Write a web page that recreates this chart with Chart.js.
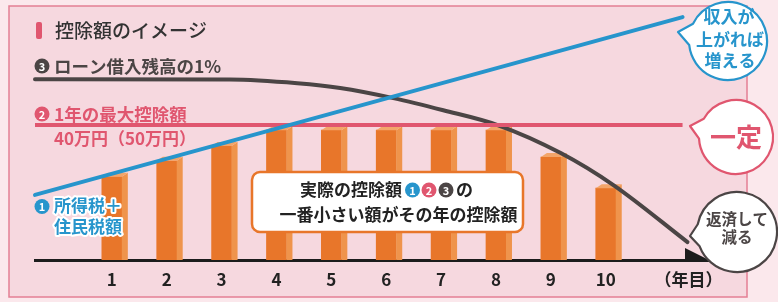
<!DOCTYPE html>
<html>
<head>
<meta charset="utf-8">
<script src="https://cdn.jsdelivr.net/npm/chart.js@4.4.1/dist/chart.umd.min.js"></script>
<style>
  html, body { margin: 0; padding: 0; background: #fbe8ec; }
  #wrap { width: 778px; height: 302px; }
</style>
</head>
<body>
<div id="wrap"><canvas id="chart" width="778" height="302"></canvas></div>
<script>
// ===== data (万円, 年目) =====
const years = [1, 2, 3, 4, 5, 6, 7, 8, 9, 10];
const deductions = [24.7, 29.4, 33.8, 38.5, 38.5, 38.5, 38.5, 38.5, 30.5, 21.3];

// ① 所得税＋住民税額（右肩上がり）
const taxX = [-0.4, 11.4];
const taxY = [19.3, 72];
// ② 1年の最大控除額（一定）
const maxX = [-0.4, 11.4];
const maxY = [40, 40];
// ③ ローン借入残高の1%
const loanX = [-0.4, 3.15, 4.38, 5.16, 6.13, 7.04, 8.03, 9.18, 10.14, 11.49];
const loanY = [53.6, 53.5, 52.4, 51, 48, 44.4, 40, 31.7, 22.2, 5.3];

const tickValues = [1, 2, 3, 4, 5, 6, 7, 8, 9, 10, 11.51];
const tickLabels = ["1", "2", "3", "4", "5", "6", "7", "8", "9", "10", "（年目）"];

const JP = '"Noto Sans CJK JP", "Noto Sans", sans-serif';
const RED = "#e0566f";
const BLUE = "#2795cc";
const DARK = "#4b4545";
const ORANGE = "#e8762a";

const pts = (xs, ys) => xs.map((x, i) => ({ x, y: ys[i] }));

function circledNum(ctx, cx, cy, r, color, n) {
  ctx.beginPath();
  ctx.arc(cx, cy, r, 0, Math.PI * 2);
  ctx.fillStyle = color;
  ctx.fill();
  ctx.fillStyle = "#fff";
  ctx.font = `bold ${Math.round(r * 1.45)}px ${JP}`;
  ctx.textAlign = "center";
  ctx.textBaseline = "middle";
  ctx.fillText(n, cx, cy + 0.5);
}

function bubble(ctx, cx, cy, r, tx, ty, color) {
  const th = Math.atan2(ty - cy, tx - cx);
  const d = 0.28;
  ctx.beginPath();
  ctx.arc(cx, cy, r, th + d, th - d + Math.PI * 2);
  ctx.lineTo(tx, ty);
  ctx.closePath();
  ctx.fillStyle = "#fff";
  ctx.fill();
  ctx.lineWidth = 2.2;
  ctx.strokeStyle = color;
  ctx.stroke();
}

function roundRect(ctx, x, y, w, h, r) {
  ctx.beginPath();
  ctx.moveTo(x + r, y);
  ctx.arcTo(x + w, y, x + w, y + h, r);
  ctx.arcTo(x + w, y + h, x, y + h, r);
  ctx.arcTo(x, y + h, x, y, r);
  ctx.arcTo(x, y, x + w, y, r);
  ctx.closePath();
}

function label(ctx, text, x, y, font, color, align) {
  ctx.font = font;
  ctx.fillStyle = color;
  ctx.textAlign = align || "left";
  ctx.textBaseline = "middle";
  ctx.fillText(text, x, y);
}

// 背景パネル
const panelPlugin = {
  id: "panel",
  beforeDraw(chart) {
    const ctx = chart.ctx;
    ctx.save();
    ctx.fillStyle = "#fbe8ec";
    ctx.fillRect(0, 0, chart.width, chart.height);
    ctx.fillStyle = "#f6d8df";
    ctx.fillRect(9, 6, 738, 291);
    ctx.strokeStyle = "#e47f94";
    ctx.lineWidth = 1.5;
    ctx.strokeRect(9, 6, 738, 291);
    ctx.restore();
  },
};

// 棒の立体部分（側面・上面）
const bar3dPlugin = {
  id: "bar3d",
  afterDatasetDraw(chart, args) {
    if (args.index !== 0) return;
    const ctx = chart.ctx;
    ctx.save();
    args.meta.data.forEach(bar => {
      const l = bar.x - bar.width / 2;
      const r = bar.x + bar.width / 2;
      const t = bar.y;
      const b = bar.base;
      ctx.fillStyle = "#ef944c";
      ctx.beginPath();
      ctx.moveTo(r, t); ctx.lineTo(r + 6, t - 4); ctx.lineTo(r + 6, b); ctx.lineTo(r, b);
      ctx.closePath(); ctx.fill();
      ctx.fillStyle = "#f3a56a";
      ctx.beginPath();
      ctx.moveTo(l, t); ctx.lineTo(l + 6, t - 4); ctx.lineTo(r + 6, t - 4); ctx.lineTo(r, t);
      ctx.closePath(); ctx.fill();
    });
    ctx.restore();
  },
};

// 注記・吹き出し
const notesPlugin = {
  id: "notes",
  afterDraw(chart) {
    const ctx = chart.ctx;
    const area = chart.chartArea;
    ctx.save();

    // 軸の矢印
    ctx.fillStyle = "#1c1c1c";
    ctx.beginPath();
    ctx.moveTo(area.right - 25, area.bottom - 12);
    ctx.lineTo(area.right - 25, area.bottom + 1.5);
    ctx.lineTo(area.right + 2, area.bottom + 1.5);
    ctx.closePath();
    ctx.fill();

    // タイトル
    ctx.fillStyle = RED;
    roundRect(ctx, 36, 22, 6, 17, 2);
    ctx.fill();
    label(ctx, "控除額のイメージ", 55, 31, `500 19px ${JP}`, "#333", "left");

    // ③
    circledNum(ctx, 42, 66, 7.5, DARK, "3");
    label(ctx, "ローン借入残高の1%", 54, 66, `bold 17.5px ${JP}`, DARK);

    // ②
    circledNum(ctx, 42, 114, 7.5, RED, "2");
    label(ctx, "1年の最大控除額", 54, 114, `bold 17.5px ${JP}`, RED);
    label(ctx, "40万円（50万円）", 54, 139, `bold 17px ${JP}`, RED);

    // ①
    circledNum(ctx, 42, 206.5, 7.5, BLUE, "1");
    ctx.font = `bold 17px ${JP}`;
    ctx.textAlign = "left";
    ctx.textBaseline = "middle";
    ctx.lineJoin = "round";
    ctx.lineWidth = 4;
    ctx.strokeStyle = "#fff";
    ctx.fillStyle = BLUE;
    [["所得税＋", 206], ["住民税額", 227]].forEach(([t, y]) => {
      ctx.strokeText(t, 54, y);
      ctx.fillText(t, 54, y);
    });

    // 中央のボックス
    roundRect(ctx, 252, 172, 271, 60, 8);
    ctx.fillStyle = "#fff";
    ctx.fill();
    ctx.strokeStyle = ORANGE;
    ctx.lineWidth = 2.5;
    ctx.stroke();
    label(ctx, "実際の控除額", 300, 190, `bold 17px ${JP}`, "#222");
    circledNum(ctx, 412.5, 190, 7.5, BLUE, "1");
    circledNum(ctx, 429, 190, 7.5, RED, "2");
    circledNum(ctx, 446, 190, 7.5, DARK, "3");
    label(ctx, "の", 456, 190, `bold 17px ${JP}`, "#222");
    label(ctx, "一番小さい額がその年の控除額", 398.5, 215, `bold 17px ${JP}`, "#222", "center");

    // 吹き出し
    bubble(ctx, 728, 41, 39, 678, 32, BLUE);
    label(ctx, "収入が", 729, 17, `bold 17px ${JP}`, BLUE, "center");
    label(ctx, "上がれば", 730, 40, `bold 17px ${JP}`, BLUE, "center");
    label(ctx, "増える", 730, 61, `bold 17px ${JP}`, BLUE, "center");

    bubble(ctx, 736, 137, 37, 690, 126, RED);
    label(ctx, "一定", 736, 137, `bold 26px ${JP}`, RED, "center");

    bubble(ctx, 737, 232, 40, 690, 236, DARK);
    label(ctx, "返済して", 737, 219, `bold 15.5px ${JP}`, DARK, "center");
    label(ctx, "減る", 737, 237, `bold 15.5px ${JP}`, DARK, "center");

    ctx.restore();
  },
};

new Chart(document.getElementById("chart"), {
  data: {
    datasets: [
      {
        type: "bar",
        data: pts(years, deductions),
        backgroundColor: ORANGE,
        barThickness: 20,
        order: 10,
      },
      {
        type: "line",
        data: pts(loanX, loanY),
        borderColor: DARK,
        borderWidth: 4,
        borderCapStyle: "round",
        cubicInterpolationMode: "monotone",
        pointRadius: 0,
        clip: false,
        order: 3,
      },
      {
        type: "line",
        data: pts(maxX, maxY),
        borderColor: RED,
        borderWidth: 4,
        pointRadius: 0,
        clip: false,
        order: 2,
      },
      {
        type: "line",
        data: pts(taxX, taxY),
        borderColor: BLUE,
        borderWidth: 4,
        borderCapStyle: "round",
        pointRadius: 0,
        clip: false,
        order: 1,
      },
    ],
  },
  options: {
    responsive: false,
    animation: false,
    devicePixelRatio: 1,
    layout: { padding: { left: 35, right: 68, top: 7, bottom: 0 } },
    plugins: { legend: { display: false }, tooltip: { enabled: false } },
    scales: {
      x: {
        type: "linear",
        offset: false,
        min: -0.4,
        max: 11.9,
        afterBuildTicks: s => { s.ticks = tickValues.map(v => ({ value: v })); },
        afterFit: s => { s.height = 42; },
        grid: { display: false, drawTicks: false, offset: false },
        border: { display: true, color: "#1c1c1c", width: 3 },
        ticks: {
          autoSkip: false,
          maxRotation: 0,
          padding: 9,
          color: "#222",
          font: { family: JP, size: 17, weight: "bold" },
          callback: (v, i) => tickLabels[i],
        },
      },
      y: { display: false, min: 0, max: 75 },
    },
  },
  plugins: [panelPlugin, bar3dPlugin, notesPlugin],
});
</script>
</body>
</html>
